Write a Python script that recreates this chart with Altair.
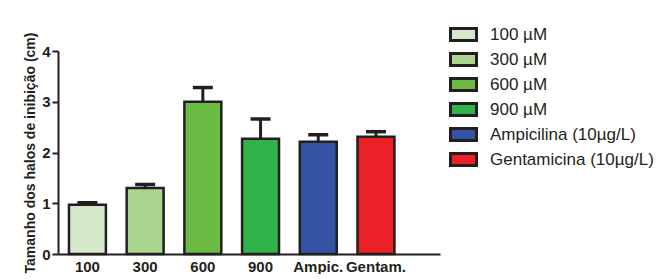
import altair as alt
import pandas as pd

categories = ["100", "300", "600", "900", "Ampic.", "Gentam."]
legend_labels = ["100  µM", "300 µM", "600 µM", "900 µM", "Ampicilina (10µg/L)", "Gentamicina (10µg/L)"]
values = [0.97, 1.30, 3.00, 2.27, 2.21, 2.31]
errors = [0.04, 0.07, 0.28, 0.39, 0.14, 0.10]
colors = ["#d3e9c9", "#acd590", "#6bbb45", "#2fb34a", "#3553a4", "#ec2027"]

df = pd.DataFrame({
    "cat": categories,
    "grupo": legend_labels,
    "valor": values,
    "err": errors,
})
df["topo"] = df["valor"] + df["err"]

ink = "#231f20"
FONT = "Liberation Sans"

x = alt.X("cat:N", sort=categories,
          scale=alt.Scale(paddingInner=0.36, paddingOuter=0.49, align=0.194),
          axis=alt.Axis(title=None, labelAngle=0, ticks=False, labelFont=FONT,
                        labelFontSize=15, labelFontWeight="bold", labelColor=ink,
                        labelPadding=5, domainColor=ink, domainWidth=2))
y_axis = alt.Axis(title="Tamanho dos halos de inibição (cm)", values=[0, 1, 2, 3, 4], format="d",
                  grid=False, tickSize=6, tickWidth=2, tickColor=ink, domainColor=ink,
                  domainWidth=2, labelFont=FONT, labelFontSize=15, labelFontWeight="bold",
                  labelColor=ink, labelPadding=2, titleFont=FONT, titleFontSize=14,
                  titleFontWeight="bold", titleColor=ink, titlePadding=4, titleLimit=400)
yscale = alt.Scale(domain=[0, 4], nice=False)

bars = alt.Chart(df).mark_bar(stroke=ink, strokeWidth=2.5, opacity=1).encode(
    x=x,
    y=alt.Y("valor:Q", scale=yscale, axis=y_axis),
    fill=alt.Fill("grupo:N", sort=legend_labels,
                  scale=alt.Scale(domain=legend_labels, range=colors),
                  legend=alt.Legend(title=None, orient="none", legendX=394, legendY=-28,
                                    symbolType="M-1.3,-0.6H1.3V0.6H-1.3Z", symbolSize=400,
                                    symbolStrokeColor=ink, symbolStrokeWidth=3,
                                    symbolOpacity=1, labelFont=FONT, labelFontSize=17,
                                    labelColor=ink, labelOffset=15, rowPadding=0,
                                    labelLimit=400, padding=0)),
)

rules = alt.Chart(df).mark_rule(color=ink, strokeWidth=3).encode(
    x=alt.X("cat:N", sort=categories),
    y=alt.Y("valor:Q", scale=yscale),
    y2="topo:Q",
)

caps = alt.Chart(df).mark_tick(color=ink, thickness=3.5, size=20, orient="horizontal", opacity=1).encode(
    x=alt.X("cat:N", sort=categories),
    y=alt.Y("topo:Q", scale=yscale),
)

chart = alt.layer(bars, rules, caps).properties(
    width=382, height=203,
    autosize=alt.AutoSizeParams(type="none"),
    padding={"left": 50, "top": 43, "right": 216, "bottom": 20},
    background="white",
).configure_view(stroke=None)

chart.save("out.html", embed_options={"renderer": "svg", "actions": False})
